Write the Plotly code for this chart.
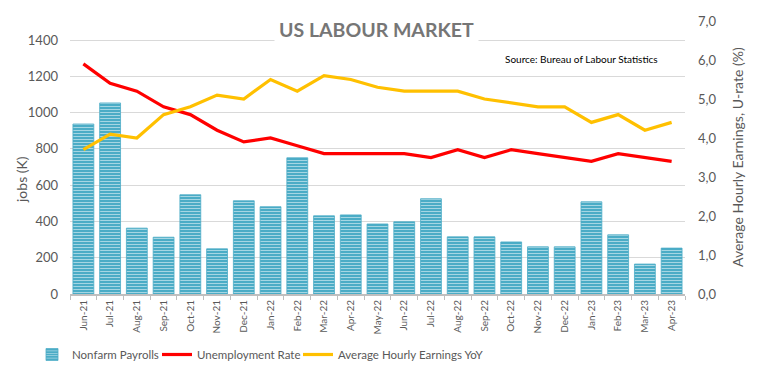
import plotly.graph_objects as go

months = ["Jun-21", "Jul-21", "Aug-21", "Sep-21", "Oct-21", "Nov-21", "Dec-21", "Jan-22",
          "Feb-22", "Mar-22", "Apr-22", "May-22", "Jun-22", "Jul-22", "Aug-22", "Sep-22",
          "Oct-22", "Nov-22", "Dec-22", "Jan-23", "Feb-23", "Mar-23", "Apr-23"]
nonfarm_payrolls = [937, 1053, 363, 313, 547, 249, 514, 481, 751, 431, 436, 386, 398, 525,
                    315, 315, 287, 260, 260, 508, 326, 165, 253]
unemployment_rate = [5.9, 5.4, 5.2, 4.8, 4.6, 4.2, 3.9, 4.0, 3.8, 3.6, 3.6, 3.6, 3.6, 3.5,
                     3.7, 3.5, 3.7, 3.6, 3.5, 3.4, 3.6, 3.5, 3.4]
avg_hourly_earnings = [3.7, 4.1, 4.0, 4.6, 4.8, 5.1, 5.0, 5.5, 5.2, 5.6, 5.5, 5.3, 5.2, 5.2,
                       5.2, 5.0, 4.9, 4.8, 4.8, 4.4, 4.6, 4.2, 4.4]
left_ticks = [0, 200, 400, 600, 800, 1000, 1200, 1400]
right_ticks = [0, 1, 2, 3, 4, 5, 6, 7]
right_tick_labels = ["0,0", "1,0", "2,0", "3,0", "4,0", "5,0", "6,0", "7,0"]

FONT = "Lato"
GREY = "#595959"

PL, PR, PT, PB = 70, 685, 21, 294
W, H = 762, 383
PW, PH = PR - PL, PB - PT


def px(x):
    return (x - PL) / PW


def py(y):
    return (PB - y) / PH


fig = go.Figure()
fig.add_trace(go.Bar(
    x=months, y=nonfarm_payrolls, name="Nonfarm Payrolls",
    marker=dict(color="#4BACC6", line=dict(color="#4BACC6", width=0.8),
                pattern=dict(shape="-", fgcolor="white", bgcolor="#4BACC6",
                             size=3, solidity=0.35, fillmode="overlay")),
    yaxis="y", legend="legend"))
fig.add_trace(go.Scatter(
    x=months, y=unemployment_rate, name="Unemployment Rate", mode="lines",
    line=dict(color="#FF0000", width=3.2), yaxis="y2", legend="legend2"))
fig.add_trace(go.Scatter(
    x=months, y=avg_hourly_earnings, name="Average Hourly Earnings YoY", mode="lines",
    line=dict(color="#FFC000", width=3.2), yaxis="y2", legend="legend3"))


def legend_at(text_x_px):
    return dict(orientation="h", x=px(text_x_px - 40), y=py(340), xanchor="left",
                yanchor="top", font=dict(size=11.5, color=GREY), itemwidth=30,
                tracegroupgap=0, bgcolor="rgba(0,0,0,0)")


fig.update_layout(
    width=W, height=H,
    margin=dict(l=PL, r=W - PR, t=PT, b=H - PB, autoexpand=False),
    paper_bgcolor="white", plot_bgcolor="white",
    font=dict(family=FONT, color=GREY, size=12),
    bargap=0.22,
    showlegend=True,
    legend=legend_at(72),
    legend2=legend_at(197),
    legend3=legend_at(338),
    xaxis=dict(type="category", tickangle=-90, tickfont=dict(size=10, color=GREY),
               showline=True, linecolor="#BFBFBF", linewidth=2, automargin=False,
               ticks="outside", tickson="boundaries", ticklen=4, tickcolor="#BFBFBF",
               showgrid=False),
    yaxis=dict(range=[0, 1400 * PH / (PB - 40)], tickvals=left_ticks, showgrid=True,
               gridcolor="#D9D9D9", automargin=False,
               gridwidth=1, zeroline=False, tickfont=dict(size=13, color=GREY), ticks="",
               ticklabelstandoff=11),
    yaxis2=dict(range=[0, 7], tickvals=right_ticks, ticktext=right_tick_labels,
                overlaying="y", side="right", showgrid=False, zeroline=False,
                automargin=False,
                tickfont=dict(size=13, color=GREY), ticklabelstandoff=12),
    annotations=[
        dict(text="<b>US LABOUR MARKET</b>", xref="paper", yref="paper",
             x=px(376), y=py(29), xanchor="center", yanchor="middle",
             showarrow=False, bgcolor="white", borderpad=4,
             font=dict(size=19.5, color="#767676", family=FONT)),
        dict(text="Source: Bureau of Labour Statistics", xref="paper", yref="paper",
             x=px(660), y=py(59), xanchor="right", yanchor="middle",
             showarrow=False, font=dict(size=10, color="black", family=FONT)),
        dict(text="jobs (K)", xref="paper", yref="paper", x=px(22),
             y=py(180), xanchor="center", yanchor="middle", textangle=-90,
             showarrow=False, font=dict(size=14, color=GREY, family=FONT)),
        dict(text="Average Hourly Earnings, U-rate (%)", xref="paper", yref="paper",
             x=px(737), y=py(157), xanchor="center", yanchor="middle",
             textangle=-90, showarrow=False, font=dict(size=14, color=GREY, family=FONT)),
    ],
)

fig.write_html("out.html", config={"displayModeBar": False},
               post_script="document.body.style.margin='0';document.body.style.overflow='hidden';")
